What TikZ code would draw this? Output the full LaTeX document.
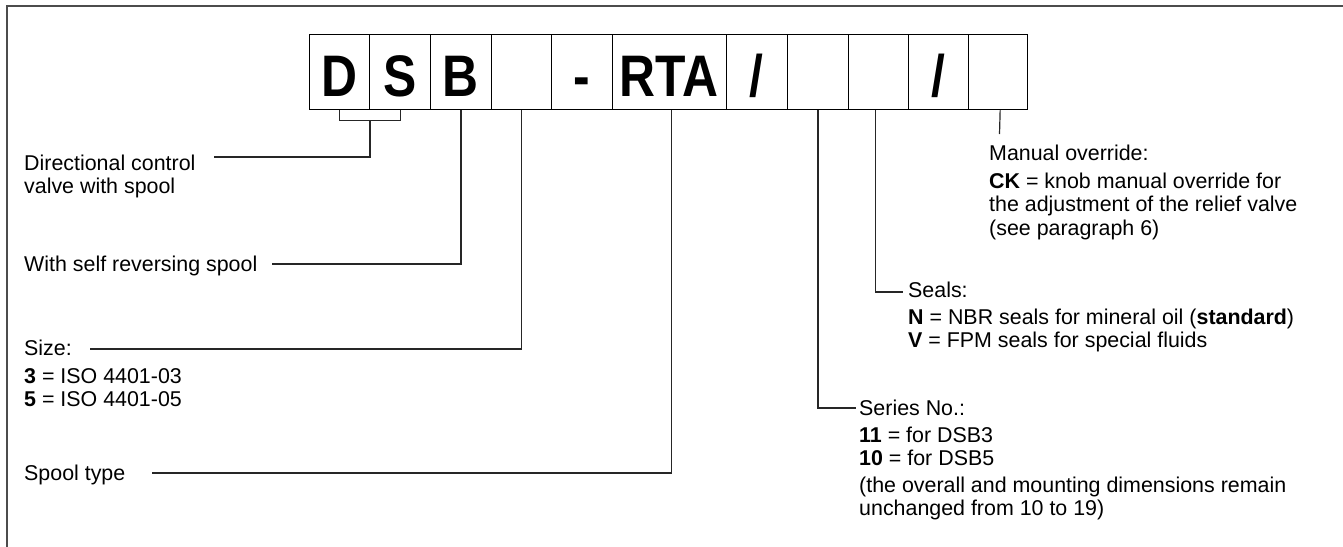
\documentclass[tikz,border=0pt]{standalone}
\usepackage{fontspec}
\setmainfont{Liberation Sans}
\usetikzlibrary{calc}
\begin{document}
\begin{tikzpicture}[x=1pt,y=-1pt,
  cell/.style={draw=black,line width=1.3pt,inner sep=0pt,minimum height=75pt,anchor=north west},
  bigl/.style={anchor=base,inner sep=0pt,font=\fontsize{58.6}{60}\selectfont\bfseries},
  txt/.style={anchor=base west,inner sep=0pt,font=\fontsize{21.4}{23.5}\selectfont},
  conn/.style={draw=black!85,line width=1.2pt},
  frame/.style={draw=black!70,line width=2pt}]
\useasboundingbox (0,0) rectangle (1343,546);
% frame (top and left)
\draw[frame] (7,547) -- (7,6) -- (1344,6);
% code boxes
\node[cell,minimum width=60pt]   (c1)  at (309,34) {};
\node[cell,minimum width=61pt]   (c2)  at (369,34) {};
\node[cell,minimum width=60.5pt] (c3)  at (430,34) {};
\node[cell,minimum width=60.5pt] (c4)  at (490.5,34) {};
\node[cell,minimum width=60.5pt] (c5)  at (551,34) {};
\node[cell,minimum width=114pt]  (c6)  at (611.5,34) {};
\node[cell,minimum width=61.5pt] (c7)  at (725.5,34) {};
\node[cell,minimum width=60.5pt] (c8)  at (787,34) {};
\node[cell,minimum width=60.5pt] (c9)  at (847.5,34) {};
\node[cell,minimum width=60pt]   (c10) at (908,34) {};
\node[cell,minimum width=59pt]   (c11) at (968,34) {};
% letters
\node[bigl] (lD) at ($(c1.south)+(0,-14)$) {\scalebox{0.85}[1]{D}};
\node[bigl] (lS) at ($(c2.south)+(0,-14)$) {\scalebox{0.85}[1]{S}};
\node[bigl] (lB) at ($(c3.south)+(0,-14)$) {\scalebox{0.85}[1]{B}};
\node[bigl] (lh) at ($(c5.south)+(0,-14)$) {\scalebox{0.85}[1]{-}};
\node[bigl] (lR) at ($(c6.south)+(0,-14)$) {\scalebox{0.85}[1]{RTA}};
\node[bigl] (ls1) at ($(c7.south)+(0,-14)$) {\scalebox{0.85}[1]{/}};
\node[bigl] (ls2) at ($(c10.south)+(0,-14)$) {\scalebox{0.85}[1]{/}};
% left texts
\node[txt] (dir1) at (24,170) {Directional control};
\node[txt] (dir2) at (24,193.5) {valve with spool};
\node[txt] (self) at (24,271) {With self reversing spool};
\node[txt] (size) at (24,355) {Size:};
\node[txt] (size3) at (24,383) {\textbf{3} = ISO 4401-03};
\node[txt] (size5) at (24,406.5) {\textbf{5} = ISO 4401-05};
\node[txt] (spool) at (24,480) {Spool type};
% right texts
\node[txt] (man1) at (989,160) {Manual override:};
\node[txt] (man2) at (989,188) {\textbf{CK} = knob manual override for};
\node[txt] (man3) at (989,211.5) {the adjustment of the relief valve};
\node[txt] (man4) at (989,235) {(see paragraph 6)};
\node[txt] (seal1) at (908,297) {Seals:};
\node[txt] (seal2) at (908,324) {\textbf{N} = NBR seals for mineral oil (\textbf{standard})};
\node[txt] (seal3) at (908,347.5) {\textbf{V} = FPM seals for special fluids};
\node[txt] (ser1) at (859,415) {Series No.:};
\node[txt] (ser2) at (859,442) {\textbf{11} = for DSB3};
\node[txt] (ser3) at (859,465.5) {\textbf{10} = for DSB5};
\node[txt] (ser4) at (859,492) {(the overall and mounting dimensions remain};
\node[txt] (ser5) at (859,515.5) {unchanged from 10 to 19)};
% connector ends
\coordinate (bm) at ($(c1.south)!0.5!(c2.south)+(0,10)$);
\coordinate (dirL) at (214,157);
\coordinate (selfL) at (272,264);
\coordinate (sizeL) at (90,349);
\coordinate (spoolL) at (152,473);
\coordinate (serL) at (856,408);
\coordinate (sealL) at (903,292);
\coordinate (manE) at (999.5,134);
% connectors
\draw[conn] (c1.south) -- ++(0,10) -| (c2.south);
\draw[conn] (bm) |- (dirL);
\draw[conn] (c3.south) |- (selfL);
\draw[conn] (c4.south) |- (sizeL);
\draw[conn] ([xshift=2pt]c6.south) |- (spoolL);
\draw[conn] (c8.south) |- (serL);
\draw[conn] ([xshift=-3pt]c9.south) |- (sealL);
\draw[conn] ([xshift=2pt]c11.south) -- (manE);
\end{tikzpicture}
\end{document}
